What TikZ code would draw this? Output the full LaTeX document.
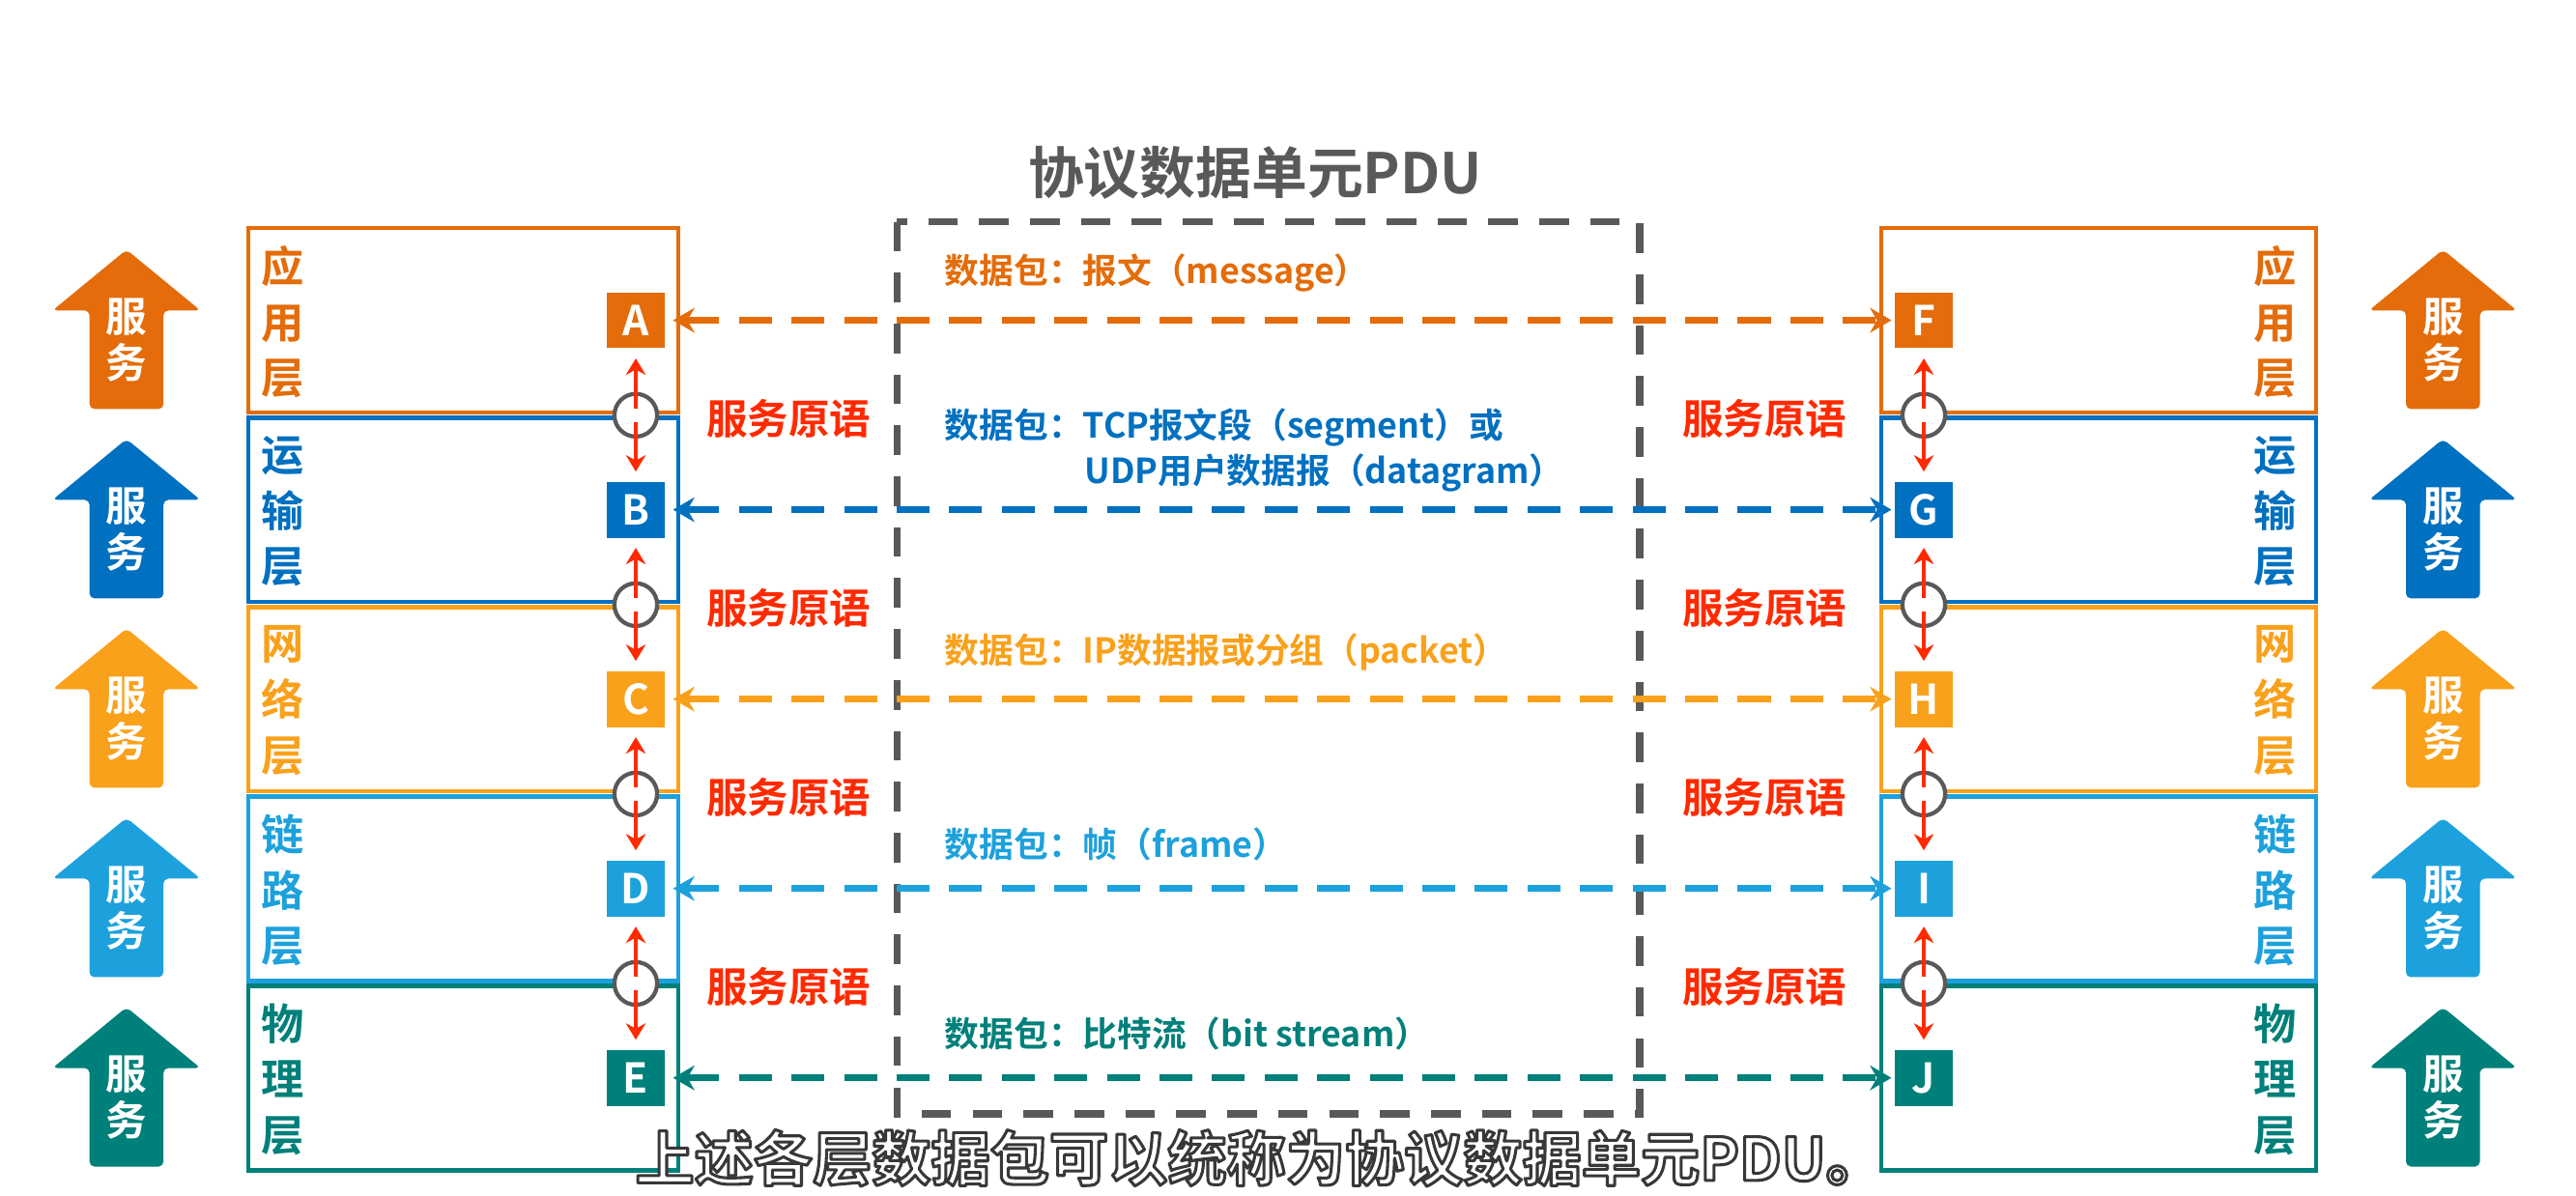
\documentclass[tikz,border=0pt]{standalone}
\usepackage{fontspec}
\setmainfont{Noto Sans CJK SC}[BoldFont={* Bold}]
\usetikzlibrary{arrows.meta}
\definecolor{cA}{HTML}{E46C0A}
\definecolor{cB}{HTML}{0070C0}
\definecolor{cC}{HTML}{F9A11B}
\definecolor{cD}{HTML}{1DA1DC}
\definecolor{cE}{HTML}{00807A}
\definecolor{cR}{HTML}{FF2A00}
\definecolor{cG}{HTML}{595959}
\begin{document}
\begin{tikzpicture}[x=1pt,y=-1pt,
  layerbox/.style={line width=2.5pt},
  letterbox/.style={minimum width=35pt,minimum height=34pt,inner sep=0pt,text=white,font=\bfseries\fontsize{25}{25}\selectfont},
  lname/.style={font=\bfseries\fontsize{26}{34}\selectfont,align=center,inner sep=0pt},
  svctext/.style={text=white,font=\bfseries\fontsize{25}{28}\selectfont,align=center,inner sep=0pt},
  primtext/.style={text=cR,font=\bfseries\fontsize{25}{25}\selectfont,inner sep=0pt},
  pdutext/.style={anchor=west,font=\bfseries\fontsize{21}{21}\selectfont,inner sep=0pt},
  dasharrow/.style={line width=4pt,dash pattern=on 20pt off 12pt,{Stealth[length=13pt,width=15pt]}-{Stealth[length=13pt,width=15pt]}},
  redarrow/.style={cR,line width=2.4pt},
  joint/.style={circle,draw=cG,line width=2.5pt,fill=white,minimum size=26pt,inner sep=0pt},
  subw/.style={text=white,font=\bfseries\fontsize{36}{36}\selectfont,inner sep=0pt},
]
\useasboundingbox (0,0) rectangle (1568,728);
\fill[white] (0,0) rectangle (1568,728);

% title
\node[text=cG,font=\bfseries\fontsize{34}{34}\selectfont,inner sep=0pt] (title) at (764,105) {协议数据单元PDU};

% PDU dashed box
\draw[cG,line width=4.5pt,dash pattern=on 18pt off 13pt] (546,135) rectangle (998,678);

% layers
\foreach \i/\col/\ma/\mb/\md/\ltr/\rtr in {0/cA/应/用/层/A/F,1/cB/运/输/层/B/G,2/cC/网/络/层/C/H,3/cD/链/路/层/D/I,4/cE/物/理/层/E/J}{
  \pgfmathsetmacro\ty{139+115.3*\i}
  % boxes
  \draw[layerbox,\col] (151.25,\ty) rectangle (412.75,\ty+112.3);
  \draw[layerbox,\col] (1145.25,\ty) rectangle (1409.75,\ty+112.3);
  % layer names
  \node[lname,text=\col] (nl\i) at (172,\ty+57) {\ma\\\mb\\\md};
  \node[lname,text=\col] (nr\i) at (1385,\ty+57) {\ma\\\mb\\\md};
  % service arrows
  \fill[\col,rounded corners=3pt] (77,\ty+13) -- (122,\ty+50) -- (99.5,\ty+50) -- (99.5,\ty+110) -- (54.5,\ty+110) -- (54.5,\ty+50) -- (32,\ty+50) -- cycle;
  \node[svctext] (sl\i) at (77,\ty+68) {服\\务};
  \fill[\col,rounded corners=3pt] (1487,\ty+13) -- (1532,\ty+50) -- (1509.5,\ty+50) -- (1509.5,\ty+110) -- (1464.5,\ty+110) -- (1464.5,\ty+50) -- (1442,\ty+50) -- cycle;
  \node[svctext] (sr\i) at (1487,\ty+68) {服\\务};
  % letter boxes
  \node[letterbox,fill=\col] (\ltr) at (387,\ty+56) {\ltr};
  \node[letterbox,fill=\col] (\rtr) at (1171,\ty+56) {\rtr};
  % peer dashed arrows
  \draw[dasharrow,\col] ([xshift=5pt]\ltr.east) -- ([xshift=-2pt]\rtr.west);
}

% joints between layers
\foreach \i/\ua/\da/\ub/\db in {0/A/B/F/G,1/B/C/G/H,2/C/D/H/I,3/D/E/I/J}{
  \pgfmathsetmacro\yb{137.5+115.3*(\i+1)}
  \node[joint] (jl\i) at (387,\yb) {};
  \node[joint] (jr\i) at (1171,\yb) {};
  \draw[redarrow,{Stealth[length=10pt,width=12pt]}-] ([yshift=-6pt]\ua.south) -- ([yshift=4pt]jl\i.center);
  \draw[redarrow,-{Stealth[length=10pt,width=12pt]}] ([yshift=-4pt]jl\i.center) -- ([yshift=6pt]\da.north);
  \draw[redarrow,{Stealth[length=10pt,width=12pt]}-] ([yshift=-6pt]\ub.south) -- ([yshift=4pt]jr\i.center);
  \draw[redarrow,-{Stealth[length=10pt,width=12pt]}] ([yshift=-4pt]jr\i.center) -- ([yshift=6pt]\db.north);
  \node[primtext] (pl\i) at (480,\yb+2) {服务原语};
  \node[primtext] (pr\i) at (1074,\yb+2) {服务原语};
}

% PDU labels
\node[pdutext,text=cA] (m1) at (575,166) {数据包：报文（message）};
\node[pdutext,text=cB] (m2) at (575,260) {数据包：TCP报文段（segment）或};
\node[pdutext,text=cB] (m2b) at (660,288) {UDP用户数据报（datagram）};
\node[pdutext,text=cC] (m3) at (575,397) {数据包：IP数据报或分组（packet）};
\node[pdutext,text=cD] (m4) at (575,514) {数据包：帧（frame）};
\node[pdutext,text=cE] (m5) at (575,629) {数据包：比特流（bit stream）};

% subtitle (white text with dark outline)
\node[subw] (sub) at (767,705) {\special{pdf:literal direct 0.22 0.22 0.22 RG 1.8 w 1 j 2 Tr}上述各层数据包可以统称为协议数据单元PDU。\special{pdf:literal direct 0 Tr}};
\end{tikzpicture}
\end{document}
